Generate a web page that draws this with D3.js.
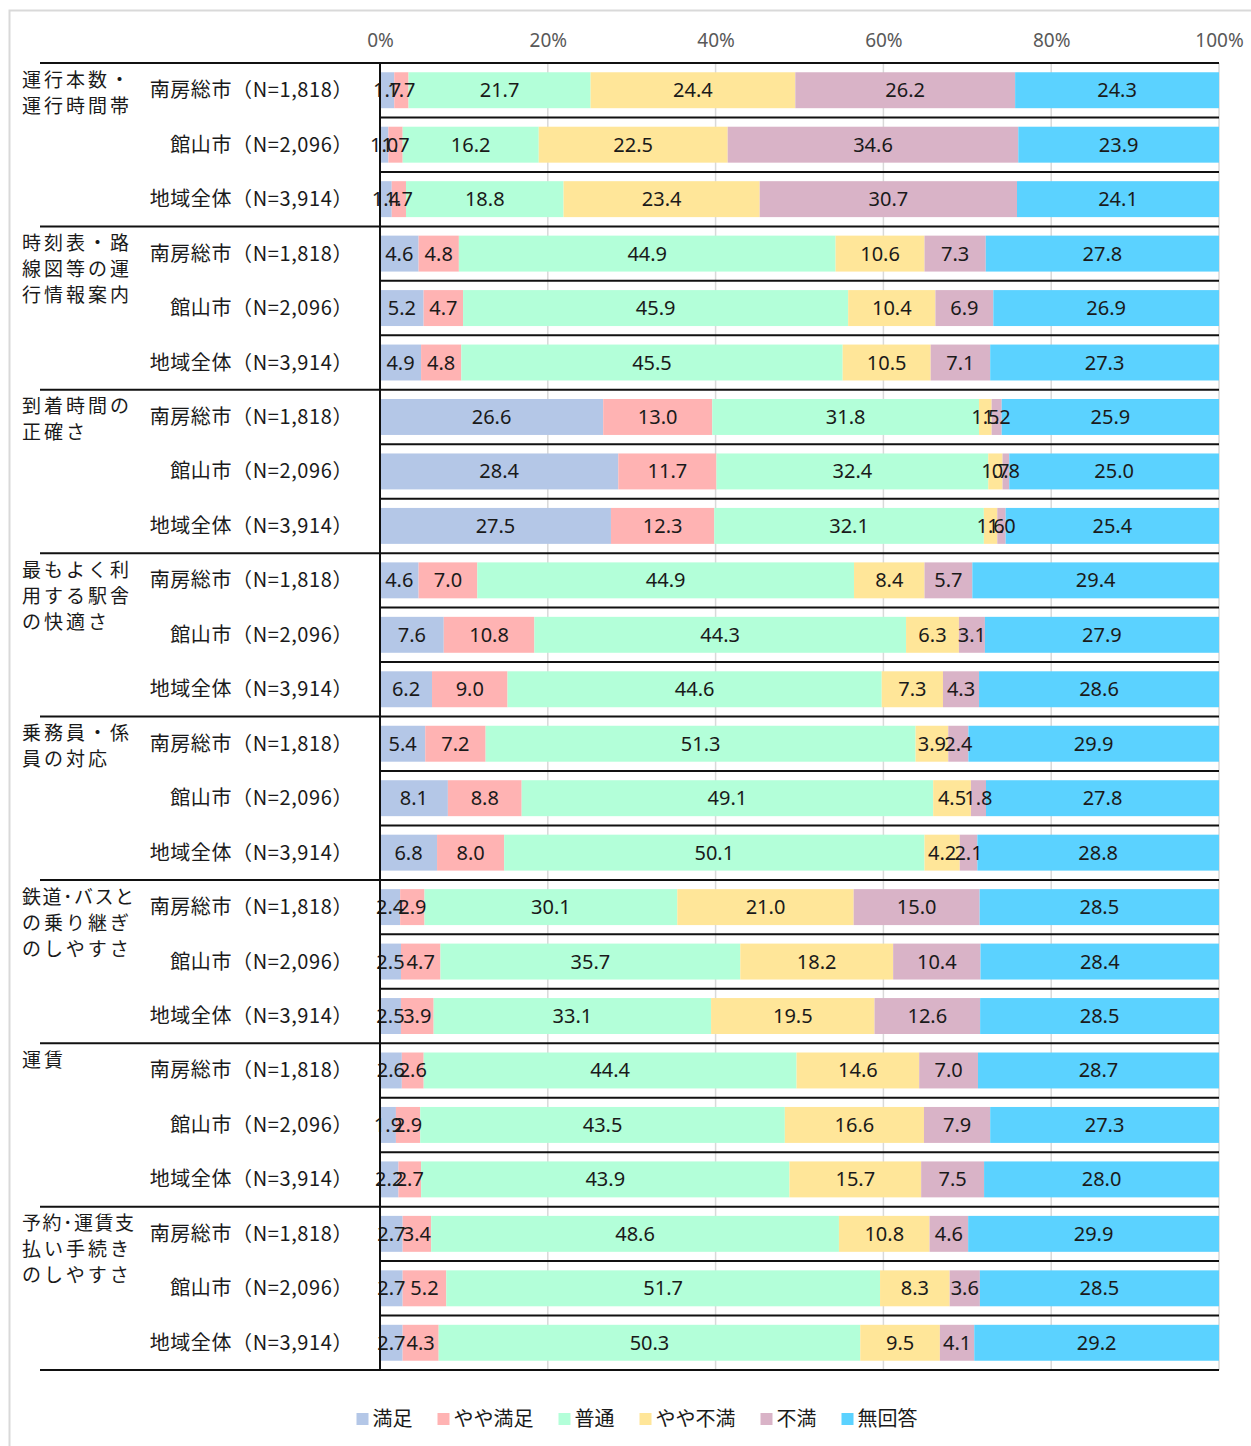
<!DOCTYPE html>
<html lang="ja">
<head>
<meta charset="utf-8">
<script src="https://cdn.jsdelivr.net/npm/d3@7"></script>
<style>
  html, body { margin: 0; padding: 0; background: #fff; }
  svg { display: block; font-family: "Noto Sans CJK JP", "Noto Sans", sans-serif; }
</style>
</head>
<body>
<svg id="chart" width="1251" height="1446"></svg>
<script>
// Survey items (each split into lines as drawn at the left)
const itemLines = [
  ["運行本数・", "運行時間帯"],
  ["時刻表・路", "線図等の運", "行情報案内"],
  ["到着時間の", "正確さ"],
  ["最もよく利", "用する駅舎", "の快適さ"],
  ["乗務員・係", "員の対応"],
  ["鉄道･バスと", "の乗り継ぎ", "のしやすさ"],
  ["運賃"],
  ["予約･運賃支", "払い手続き", "のしやすさ"]
];

// Respondent areas, repeated for every item
const areas = ["南房総市（N=1,818）", "館山市（N=2,096）", "地域全体（N=3,914）"];

// Answer categories and their colours
const seriesNames = ["満足", "やや満足", "普通", "やや不満", "不満", "無回答"];
const seriesColors = ["#b4c7e7", "#ffb3b3", "#b3ffd9", "#ffe699", "#d9b3c7", "#5bd2ff"];

// Percentages, one entry per bar (8 items × 3 areas, top to bottom)
const manzoku = [1.7, 1.0, 1.4,  4.6, 5.2, 4.9,  26.6, 28.4, 27.5,  4.6, 7.6, 6.2,  5.4, 8.1, 6.8,  2.4, 2.5, 2.5,  2.6, 1.9, 2.2,  2.7, 2.7, 2.7];
const yayaManzoku = [1.7, 1.7, 1.7,  4.8, 4.7, 4.8,  13.0, 11.7, 12.3,  7.0, 10.8, 9.0,  7.2, 8.8, 8.0,  2.9, 4.7, 3.9,  2.6, 2.9, 2.7,  3.4, 5.2, 4.3];
const futsu = [21.7, 16.2, 18.8,  44.9, 45.9, 45.5,  31.8, 32.4, 32.1,  44.9, 44.3, 44.6,  51.3, 49.1, 50.1,  30.1, 35.7, 33.1,  44.4, 43.5, 43.9,  48.6, 51.7, 50.3];
const yayaFuman = [24.4, 22.5, 23.4,  10.6, 10.4, 10.5,  1.5, 1.7, 1.6,  8.4, 6.3, 7.3,  3.9, 4.5, 4.2,  21.0, 18.2, 19.5,  14.6, 16.6, 15.7,  10.8, 8.3, 9.5];
const fuman = [26.2, 34.6, 30.7,  7.3, 6.9, 7.1,  1.2, 0.8, 1.0,  5.7, 3.1, 4.3,  2.4, 1.8, 2.1,  15.0, 10.4, 12.6,  7.0, 7.9, 7.5,  4.6, 3.6, 4.1];
const mukaito = [24.3, 23.9, 24.1,  27.8, 26.9, 27.3,  25.9, 25.0, 25.4,  29.4, 27.9, 28.6,  29.9, 27.8, 28.8,  28.5, 28.4, 28.5,  28.7, 27.3, 28.0,  29.9, 28.5, 29.2];

// Axis tick labels
const tickValues = [0, 20, 40, 60, 80, 100];
const tickLabels = ["0%", "20%", "40%", "60%", "80%", "100%"];

// ---- build rows ----
const seriesValues = [manzoku, yayaManzoku, futsu, yayaFuman, fuman, mukaito];
const rows = manzoku.map((_, i) => {
  const r = { id: i, item: Math.floor(i / 3), area: areas[i % 3] };
  seriesNames.forEach((s, k) => { r[s] = seriesValues[k][i]; });
  r.total = d3.sum(seriesNames, s => r[s]);
  return r;
});

const svg = d3.select("#chart");
const plotLeft = 380, plotRight = 1219, plotTop = 63, plotBottom = 1370;

const x = d3.scaleLinear().domain([0, 100]).range([plotLeft, plotRight]);
const y = d3.scaleBand().domain(rows.map(d => d.id)).range([plotTop, plotBottom])
  .paddingInner(0.34).paddingOuter(0.17);
const color = d3.scaleOrdinal().domain(seriesNames).range(seriesColors);

// outer frame
svg.append("rect").attr("x", 9.5).attr("y", 10.5).attr("width", 1300).attr("height", 1500)
  .attr("fill", "none").attr("stroke", "#d9d9d9").attr("stroke-width", 2);

// vertical gridlines
svg.append("g").selectAll("line").data(tickValues.filter(v => v > 0)).join("line")
  .attr("x1", d => x(d)).attr("x2", d => x(d))
  .attr("y1", plotTop).attr("y2", plotBottom)
  .attr("stroke", "#d9d9d9").attr("stroke-width", 1.5);

// top axis tick labels
const axis = d3.axisTop(x).tickValues(tickValues).tickFormat((d, i) => tickLabels[i]).tickSize(0).tickPadding(0);
const axisG = svg.append("g").attr("transform", `translate(0,${plotTop})`).call(axis);
axisG.select(".domain").remove();
axisG.selectAll("text")
  .attr("y", 40 - plotTop).attr("dy", "0.35em")
  .attr("font-size", 19).attr("fill", "#595959")
  .attr("font-family", "\"Noto Sans\", sans-serif");

// stacked bars (normalised to each row's total)
const stack = d3.stack().keys(seriesNames)
  .value((d, key) => d[key] / d.total * 100);
const stacked = stack(rows);

const layers = svg.append("g").selectAll("g").data(stacked).join("g")
  .attr("fill", d => color(d.key));
layers.selectAll("rect").data(d => d).join("rect")
  .attr("x", d => x(d[0]))
  .attr("width", d => x(d[1]) - x(d[0]))
  .attr("y", d => y(d.data.id))
  .attr("height", y.bandwidth());

// value labels centred in each segment
const labels = svg.append("g").attr("font-size", 20).attr("fill", "#1a1a1a")
  .attr("text-anchor", "middle").attr("font-family", "\"Noto Sans\", sans-serif");
stacked.forEach(layer => {
  labels.selectAll(null).data(layer).join("text")
    .attr("x", d => (x(d[0]) + x(d[1])) / 2)
    .attr("y", d => y(d.data.id) + y.bandwidth() / 2)
    .attr("dy", "0.35em")
    .text(d => d3.format(".1f")(d.data[layer.key]));
});

// separators: row lines inside the plot, item lines across the label area
const step = y.step();
const boundaries = d3.range(rows.length + 1).map(i => plotTop + i * step);
svg.append("g").selectAll("line").data(boundaries).join("line")
  .attr("x1", (d, i) => i % 3 === 0 ? 40 : plotLeft)
  .attr("x2", plotRight)
  .attr("y1", d => d).attr("y2", d => d)
  .attr("stroke", "#111").attr("stroke-width", 2);

// 0% axis line
svg.append("line").attr("x1", plotLeft).attr("x2", plotLeft)
  .attr("y1", plotTop).attr("y2", plotBottom)
  .attr("stroke", "#111").attr("stroke-width", 2);

// area labels
svg.append("g").selectAll("text").data(rows).join("text")
  .attr("x", 353)
  .attr("y", d => y(d.id) + y.bandwidth() / 2)
  .attr("dy", "0.35em")
  .attr("text-anchor", "end")
  .attr("font-size", 20).attr("fill", "#1a1a1a")
  .attr("letter-spacing", 0.6)
  .text(d => d.area);

// item labels (lines with a half-width dot get tighter spacing)
const itemG = svg.append("g").attr("font-size", 19).attr("fill", "#1a1a1a");
itemLines.forEach((lines, gi) => {
  const top = plotTop + gi * 3 * step;
  itemG.selectAll(null).data(lines).join("text")
    .attr("x", 22)
    .attr("y", (d, li) => top + 17 + li * 26)
    .attr("dy", "0.35em")
    .attr("letter-spacing", d => d.includes("･") ? 1.5 : 3)
    .text(d => d);
});

// legend
const legend = svg.append("g").attr("font-size", 20).attr("fill", "#1a1a1a");
const items = legend.selectAll("g").data(seriesNames).join("g");
items.append("rect").attr("width", 12).attr("height", 12).attr("y", -6)
  .attr("fill", d => color(d));
items.append("text").attr("x", 16).attr("dy", "0.35em").text(d => d);
let cursor = 0;
const gap = 25;
items.each(function () {
  const w = 16 + this.querySelector("text").getComputedTextLength();
  d3.select(this).attr("data-x", cursor);
  cursor += w + gap;
});
const totalW = cursor - gap;
const legendLeft = 637 - totalW / 2;
items.attr("transform", function () {
  return `translate(${legendLeft + +this.getAttribute("data-x")},1419)`;
});
</script>
</body>
</html>
